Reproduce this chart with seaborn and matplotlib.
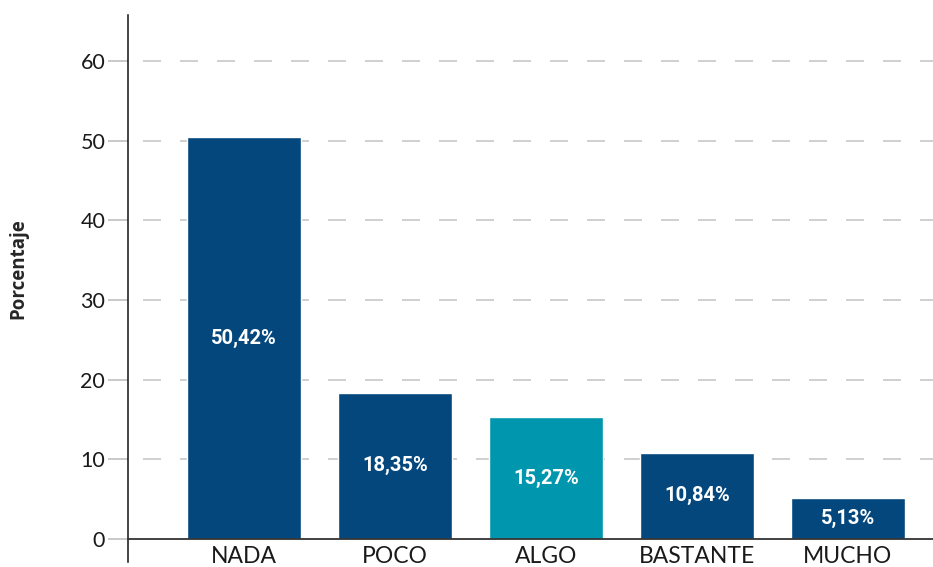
import matplotlib
matplotlib.use('Agg')
import matplotlib.pyplot as plt
import seaborn as sns
import pandas as pd

# Data
categories = ['NADA', 'POCO', 'ALGO', 'BASTANTE', 'MUCHO']
values = [50.42, 18.35, 15.27, 10.84, 5.13]
labels = ['50,42%', '18,35%', '15,27%', '10,84%', '5,13%']
bar_colors = ['#03477d', '#03477d', '#0096ae', '#03477d', '#03477d']
yticks = [0, 10, 20, 30, 40, 50, 60]

df = pd.DataFrame({'cat': categories, 'val': values})

sns.set_style('white')
plt.rcParams['font.family'] = ['Lato', 'DejaVu Sans']

fig = plt.figure(figsize=(9.33, 5.67), dpi=100)
ax = fig.add_axes([128 / 933, 5 / 567, 1 - 128 / 933, 547 / 567])

sns.barplot(data=df, x='cat', y='val', hue='cat', palette=bar_colors,
            legend=False, width=0.755, saturation=1, ax=ax, zorder=3)

# Dashed gridlines
lw = 1.2
for t in yticks[1:]:
    ax.axhline(t, color='#c8c8c8', linewidth=lw, zorder=1,
               linestyle=(13.2, (10.8, 11.4)))
# Zero line
ax.axhline(0, color='#333333', linewidth=1.3, zorder=4)

# Labels inside bars
for i, (v, lab) in enumerate(zip(values, labels)):
    ax.text(i, v / 2, lab, ha='center', va='center', color='white',
            fontsize=14.5, fontweight='bold', family=['Roboto', 'DejaVu Sans'],
            zorder=5)

ax.set_xlim(-0.768, 4.563)
ax.set_ylim(-2.9, 65.8)
ax.set_yticks(yticks)
ax.set_yticklabels([str(t) for t in yticks], fontsize=15.5, color='#1a1a1a')
ax.tick_params(axis='y', length=14.4, width=1.1, color='#bbbbbb', pad=2,
               left=True)
ax.tick_params(axis='x', length=0, pad=-11.5)
for lbl in ax.get_xticklabels():
    lbl.set_fontsize(16.5)
    lbl.set_color('#1a1a1a')

for s in ['top', 'right', 'bottom']:
    ax.spines[s].set_visible(False)
ax.spines['left'].set_color('#111111')
ax.spines['left'].set_linewidth(1.1)

ax.set_xlabel('')
ax.set_ylabel('Porcentaje', fontsize=13.5, fontweight='bold',
              family=['Open Sans', 'DejaVu Sans'])
ax.yaxis.set_label_coords(-0.124, 0.537)

fig.savefig('out.png', dpi=100)
